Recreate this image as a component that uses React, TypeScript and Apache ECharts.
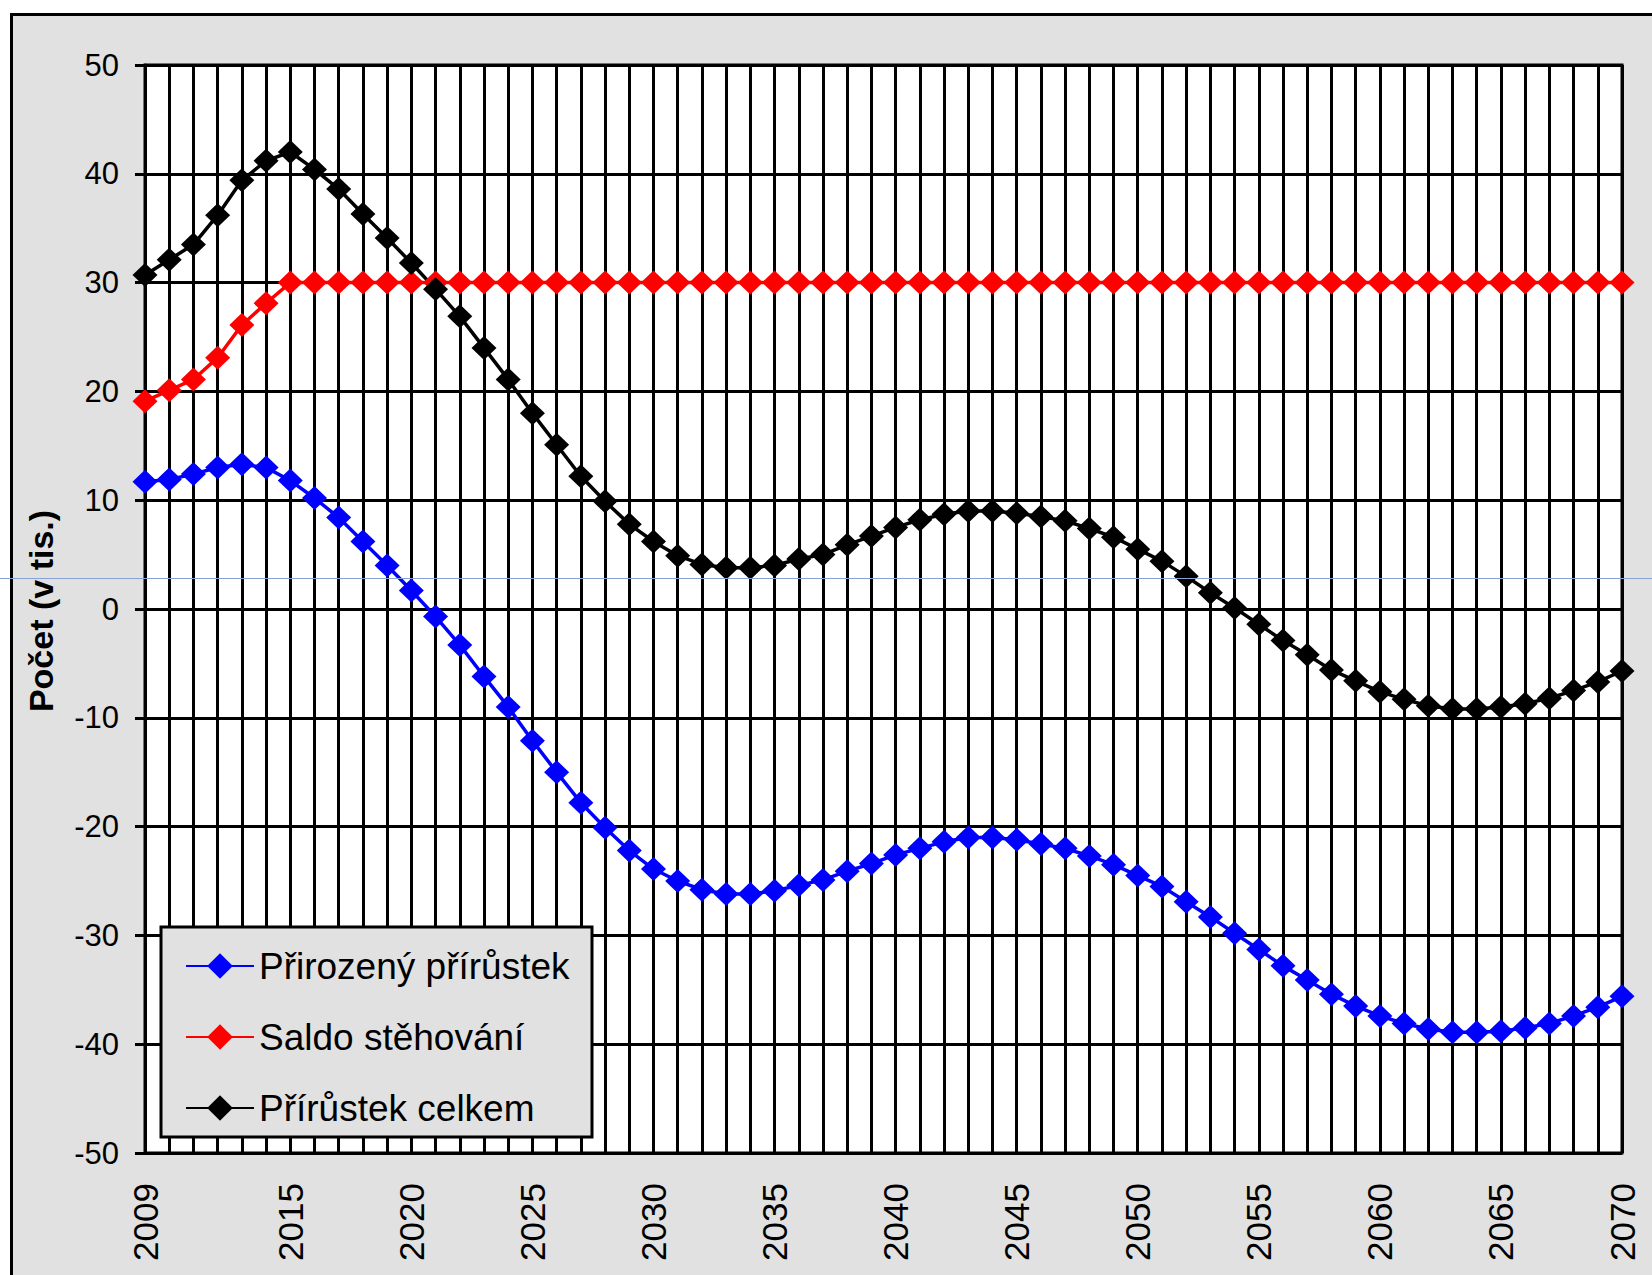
import React, { useEffect, useRef } from "react";
import * as echarts from "echarts";

const FONT = '"Liberation Sans", Arial, sans-serif';

const years = [
  "2009", "2010", "2011", "2012", "2013", "2014", "2015", "2016", "2017", "2018",
  "2019", "2020", "2021", "2022", "2023", "2024", "2025", "2026", "2027", "2028",
  "2029", "2030", "2031", "2032", "2033", "2034", "2035", "2036", "2037", "2038",
  "2039", "2040", "2041", "2042", "2043", "2044", "2045", "2046", "2047", "2048",
  "2049", "2050", "2051", "2052", "2053", "2054", "2055", "2056", "2057", "2058",
  "2059", "2060", "2061", "2062", "2063", "2064", "2065", "2066", "2067", "2068",
  "2069", "2070",
];

// Years that carry a tick label on the x axis
const labelledYears = [
  "2009", "2015", "2020", "2025", "2030", "2035", "2040", "2045", "2050", "2055",
  "2060", "2065", "2070",
];

// Přirozený přírůstek (blue)
const prirozenyPrirustek = [
  11.7, 11.9, 12.4, 13.0, 13.3, 13.0, 11.8, 10.2, 8.4, 6.2,
  4.0, 1.7, -0.7, -3.3, -6.2, -9.0, -12.1, -15.0, -17.8, -20.1,
  -22.2, -23.9, -25.0, -25.8, -26.2, -26.2, -25.9, -25.4, -24.9, -24.1,
  -23.4, -22.6, -22.0, -21.4, -21.0, -21.0, -21.2, -21.6, -22.0, -22.7,
  -23.5, -24.5, -25.5, -26.9, -28.3, -29.8, -31.3, -32.8, -34.1, -35.4,
  -36.5, -37.4, -38.1, -38.6, -38.9, -38.9, -38.8, -38.5, -38.1, -37.4,
  -36.6, -35.6,
];

// Saldo stěhování (red)
const saldoStehovani = [
  19.1, 20.1, 21.1, 23.1, 26.1, 28.1, 30, 30, 30, 30,
  30, 30, 30, 30, 30, 30, 30, 30, 30, 30,
  30, 30, 30, 30, 30, 30, 30, 30, 30, 30,
  30, 30, 30, 30, 30, 30, 30, 30, 30, 30,
  30, 30, 30, 30, 30, 30, 30, 30, 30, 30,
  30, 30, 30, 30, 30, 30, 30, 30, 30, 30,
  30, 30,
];

// Přírůstek celkem (black)
const prirustekCelkem = [
  30.7, 32.1, 33.5, 36.2, 39.4, 41.2, 42.0, 40.4, 38.6, 36.3,
  34.1, 31.8, 29.4, 26.9, 24.0, 21.1, 18.0, 15.1, 12.2, 9.9,
  7.8, 6.2, 4.9, 4.1, 3.8, 3.8, 4.0, 4.6, 5.0, 5.9,
  6.7, 7.5, 8.2, 8.7, 9.0, 9.0, 8.8, 8.5, 8.1, 7.4,
  6.6, 5.5, 4.4, 3.0, 1.5, 0.1, -1.4, -2.9, -4.2, -5.6,
  -6.6, -7.6, -8.3, -8.9, -9.2, -9.2, -9.0, -8.7, -8.2, -7.5,
  -6.7, -5.7,
];

const seriesNames = ["Přirozený přírůstek", "Saldo stěhování", "Přírůstek celkem"];
const seriesColors = ["#0000ff", "#ff0000", "#000000"];
const yMin = -50;
const yMax = 50;
const yStep = 10;
const yTitle = "Počet (v tis.)";

export default function App() {
  const ref = useRef<HTMLDivElement>(null);

  useEffect(() => {
    document.body.style.margin = "0";
    const chart = echarts.init(ref.current as HTMLDivElement, null, { renderer: "svg" });
    const datasets = [prirozenyPrirustek, saldoStehovani, prirustekCelkem];
    chart.setOption({
      animation: false,
      backgroundColor: "#ffffff",
      textStyle: { fontFamily: FONT },
      graphic: [
        {
          type: "rect",
          z: -100,
          silent: true,
          shape: { x: 11.5, y: 14.5, width: 1700, height: 1300 },
          style: { fill: "#e1e1e1", stroke: "#000000", lineWidth: 3 },
        },
        {
          type: "text",
          x: 41,
          y: 611,
          rotation: Math.PI / 2,
          silent: true,
          style: {
            text: yTitle,
            fontSize: 34,
            fontWeight: "bold",
            fontFamily: FONT,
            fill: "#000000",
            align: "center",
            verticalAlign: "middle",
          },
        },
        {
          type: "line",
          z: 100,
          silent: true,
          shape: { x1: 0, y1: 578.5, x2: 1652, y2: 578.5 },
          style: { stroke: "#86a2d8", lineWidth: 1 },
        },
      ],
      grid: {
        left: 145,
        top: 65,
        width: 1477,
        height: 1088,
        show: true,
        backgroundColor: "#ffffff",
        borderColor: "#000000",
        borderWidth: 3,
      },
      legend: {
        orient: "vertical",
        left: 161,
        top: 927,
        padding: [19, 22, 9, 24],
        itemWidth: 68,
        itemHeight: 32,
        itemGap: 31,
        backgroundColor: "#e1e1e1",
        borderColor: "#000000",
        borderWidth: 3,
        selectedMode: false,
        data: seriesNames,
        textStyle: {
          fontSize: 37,
          lineHeight: 40,
          color: "#000000",
          fontFamily: FONT,
          width: 311,
        },
      },
      xAxis: {
        type: "category",
        data: years,
        boundaryGap: false,
        axisLine: { show: true, lineStyle: { color: "#000000", width: 3 } },
        axisTick: { show: false },
        axisLabel: {
          interval: (_i: number, v: string) => labelledYears.indexOf(v) >= 0,
          showMinLabel: true,
          rotate: 90,
          fontSize: 35,
          color: "#000000",
          margin: 30,
          fontFamily: FONT,
        },
        splitLine: { show: true, interval: 0, lineStyle: { color: "#000000", width: 3 } },
      },
      yAxis: {
        type: "value",
        min: yMin,
        max: yMax,
        interval: yStep,
        axisLine: { show: true, lineStyle: { color: "#000000", width: 3 } },
        axisTick: { show: true, length: 10, lineStyle: { color: "#000000", width: 3 } },
        axisLabel: { fontSize: 31, color: "#000000", margin: 26, fontFamily: FONT },
        splitLine: { show: true, lineStyle: { color: "#000000", width: 3 } },
      },
      series: seriesNames.map((name, k) => ({
        name,
        type: "line",
        data: datasets[k],
        symbol: "diamond",
        symbolSize: [25, 24],
        showSymbol: true,
        showAllSymbol: true,
        itemStyle: { color: seriesColors[k] },
        lineStyle: { color: seriesColors[k], width: 3.5 },
        emphasis: { disabled: true },
      })),
    });
    return () => chart.dispose();
  }, []);

  return (
    <div
      ref={ref}
      style={{ position: "absolute", left: 0, top: 0, width: 1652, height: 1275 }}
    />
  );
}
